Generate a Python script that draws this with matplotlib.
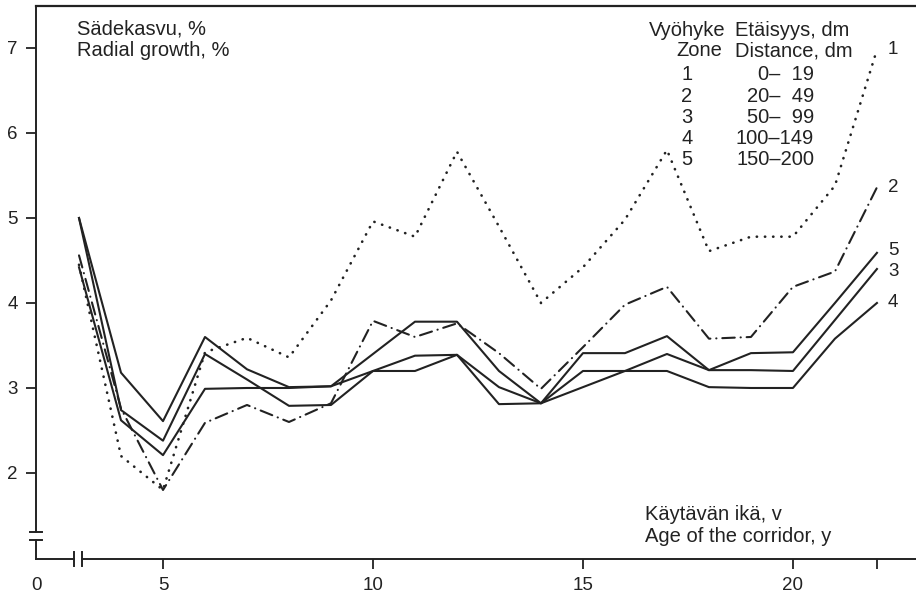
import numpy as np
import matplotlib.pyplot as plt

plt.rcParams['font.family'] = ['Liberation Sans', 'DejaVu Sans']

# käytävän ikä, v
age = [3, 4, 5, 6, 7, 8, 9, 10, 11, 12, 13, 14, 15, 16, 17, 18, 19, 20, 21, 22]

# sädekasvu % vyöhykkeittäin
zone1 = [4.45, 2.20, 1.80, 3.42, 3.59, 3.36, 4.03, 4.96, 4.78, 5.78,
         4.90, 4.00, 4.42, 4.98, 5.80, 4.61, 4.78, 4.78, 5.38, 6.98]
zone2 = [4.56, 2.76, 1.80, 2.59, 2.80, 2.60, 2.82, 3.79, 3.60, 3.76,
         3.41, 2.99, 3.48, 3.98, 4.19, 3.58, 3.60, 4.19, 4.37, 5.36]
zone3 = [5.00, 2.74, 2.38, 3.40, 3.10, 2.79, 2.80, 3.20, 3.38, 3.39,
         3.01, 2.82, 3.01, 3.20, 3.40, 3.21, 3.21, 3.20, 3.80, 4.40]
zone4 = [4.42, 2.62, 2.21, 2.99, 3.00, 3.00, 3.02, 3.20, 3.20, 3.39,
         2.81, 2.82, 3.20, 3.20, 3.20, 3.01, 3.00, 3.00, 3.58, 4.00]
zone5 = [5.00, 3.18, 2.61, 3.60, 3.22, 3.01, 3.02, 3.40, 3.78, 3.78,
         3.20, 2.82, 3.41, 3.41, 3.61, 3.21, 3.41, 3.42, 4.00, 4.59]

zone_no = ['1', '2', '3', '4', '5']
distance = ['0–  19', '20–  49', '50–  99', '100–149', '150–200']

xticks = [5, 10, 15, 20, 22]
xticklabels = ['5', '10', '15', '20', '']
yticks = [2, 3, 4, 5, 6, 7]

ink = '#222222'
fs = 14.5
W, H = 916, 595
fig = plt.figure(figsize=(W / 100, H / 100), dpi=100)
ax = fig.add_axes([36 / W, 36 / H, 880 / W, 553 / H])

x0, x1 = 1.976, 22.93
ax.set_xlim(x0, x1)
ax.set_ylim(0.988, 7.494)

lw = 1.5
ax.plot(age, zone1, color=ink, lw=1.9, linestyle=(0, (0.1, 3.0)), dash_capstyle='round')
ax.plot(age, zone2, color=ink, lw=1.5, linestyle=(0, (6, 2.8, 0.1, 2.8)), dash_capstyle='round')
ax.plot(age, zone3, color=ink, lw=lw)
ax.plot(age, zone4, color=ink, lw=lw)
ax.plot(age, zone5, color=ink, lw=lw)

# numerot viivojen päihin, 3 ja 5 vähän erilleen
nudge = {'3': -2.0, '5': 2.0}
for vals, lab in zip([zone1, zone2, zone3, zone4, zone5], zone_no):
    ax.annotate(lab, (age[-1], vals[-1]), xytext=(8, nudge.get(lab, 0)),
                textcoords='offset points', va='center', ha='left',
                fontsize=13.5, color=ink)

# akselit katkoksineen
for s in ['left', 'bottom', 'right']:
    ax.spines[s].set_visible(False)
ax.spines['top'].set_linewidth(1.6)
ax.spines['top'].set_color(ink)

ytr = ax.get_yaxis_transform()
xtr = ax.get_xaxis_transform()
yb0, yb1 = 1.21, 1.305
ax.plot([0, 0], [0.988, yb0], transform=ytr, color=ink, lw=1.4, clip_on=False)
ax.plot([0, 0], [yb1, 7.494], transform=ytr, color=ink, lw=1.4, clip_on=False)
for yb in (yb0, yb1):
    ax.plot([-0.007, 0.007], [yb, yb], transform=ytr, color=ink, lw=1.4, clip_on=False)

xb0, xb1 = 2.88, 3.07
ax.plot([x0, xb0], [0, 0], transform=xtr, color=ink, lw=1.4, clip_on=False)
ax.plot([xb1, x1], [0, 0], transform=xtr, color=ink, lw=1.4, clip_on=False)
for xb in (xb0, xb1):
    ax.plot([xb, xb], [-0.012, 0.012], transform=xtr, color=ink, lw=1.4, clip_on=False)

ax.set_xticks([x0] + xticks)
ax.set_xticklabels(['0'] + xticklabels)
ax.xaxis.get_major_ticks()[0].tick1line.set_visible(False)
ax.set_yticks(yticks)
ax.set_yticklabels([str(v) for v in yticks])
ax.tick_params(direction='out', length=7, width=1.3, color=ink, labelcolor=ink,
               labelsize=13.5, pad=6)

def px(x, y, s, **kw):
    fig.text(x / W, 1 - y / H, s, fontsize=fs, color=ink, va='center', **kw)

px(77, 29, 'Sädekasvu, %')
px(77, 50, 'Radial growth, %')

px(726, 30, 'Vyöhyke', ha='right')
px(735, 30, 'Etäisyys, dm')
px(722, 51, 'Zone', ha='right')
px(735, 51, 'Distance, dm')
for i, (z, d) in enumerate(zip(zone_no, distance)):
    yy = 75 + i * 21.2
    px(687, yy, z, ha='center')
    px(814, yy, d, ha='right')

px(645, 515, 'Käytävän ikä, v')
px(645, 537, 'Age of the corridor, y')

fig.savefig('out.png', dpi=100)
